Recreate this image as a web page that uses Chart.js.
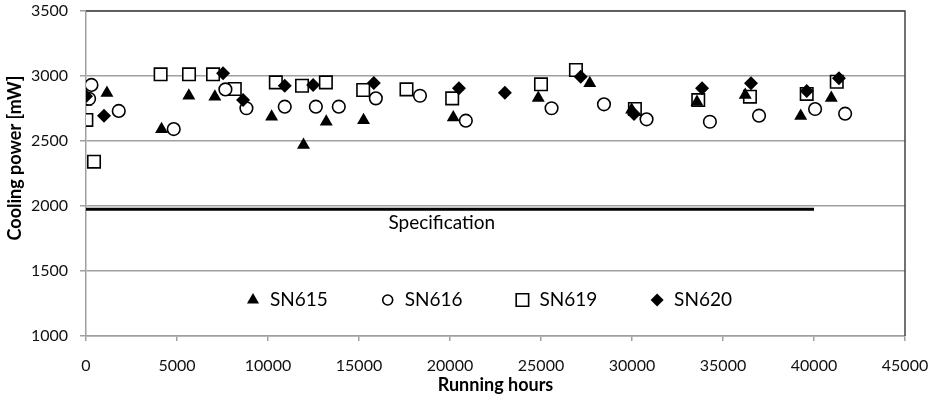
<!DOCTYPE html>
<html><head><meta charset="utf-8">
<script src="https://cdn.jsdelivr.net/npm/chart.js@4"></script>
<style>html,body{margin:0;padding:0;background:#fff;}</style>
</head><body>
<canvas id="c" width="937" height="399"></canvas>
<script>
// ---- data ----
const seriesNames = ['SN615', 'SN616', 'SN619', 'SN620'];

const sn615Hours = [0, 1150, 4150, 5650, 7080, 10200, 11950, 13200, 15250, 20180, 24850, 27680, 29980, 33570, 36220, 39270, 40950];
const sn615Power = [2800, 2870, 2590, 2848, 2840, 2687, 2470, 2648, 2659, 2680, 2830, 2944, 2740, 2800, 2854, 2692, 2830];

const sn616Hours = [170, 300, 1800, 4820, 7660, 8815, 10920, 12630, 13890, 15925, 18350, 20870, 25580, 28460, 30800, 34280, 36980, 40060, 41710];
const sn616Power = [2825, 2931, 2731, 2592, 2897, 2752, 2764, 2764, 2764, 2828, 2848, 2656, 2752, 2782, 2667, 2648, 2695, 2746, 2710];

const sn619Hours = [20, 440, 4100, 5660, 6980, 8175, 10430, 11870, 13180, 15230, 17610, 20120, 25000, 26920, 30160, 33640, 36480, 39600, 41250];
const sn619Power = [2662, 2341, 3013, 3013, 3013, 2900, 2951, 2925, 2951, 2892, 2897, 2828, 2936, 3046, 2746, 2815, 2841, 2862, 2956];

const sn620Hours = [0, 990, 7530, 8630, 10920, 12480, 15815, 20490, 23015, 27180, 30110, 33850, 36540, 39600, 41370];
const sn620Power = [2845, 2695, 3021, 2815, 2925, 2931, 2946, 2905, 2872, 2995, 2708, 2905, 2945, 2885, 2982];

const specHours = [0, 40000];
const specPower = [1975, 1975];
const specLabel = 'Specification';
const specLabelHours = 19550;

const xTitle = 'Running hours';
const yTitle = 'Cooling power [mW]';
const xMin = 0, xMax = 45000, xStep = 5000;
const yMin = 1000, yMax = 3500, yStep = 500;

// ---- helpers ----
const pts = (xs, ys) => xs.map((x, i) => ({ x: x, y: ys[i] }));
const FONT = 'Lato, "Open Sans", sans-serif';
const GRID = '#a0a0a0';

const styles = [
  { pointStyle: 'triangle', radius: 7.5, bg: '#000', border: '#000', bw: 0, order: 2 },
  { pointStyle: 'circle', radius: 6.3, bg: '#fff', border: '#000', bw: 1.6, order: 1 },
  { pointStyle: 'rect', radius: 8.8, bg: '#fff', border: '#000', bw: 1.6, order: 3 },
  { pointStyle: 'rectRot', radius: 7, bg: '#000', border: '#000', bw: 0, order: 0 }
];
const seriesData = [
  pts(sn615Hours, sn615Power),
  pts(sn616Hours, sn616Power),
  pts(sn619Hours, sn619Power),
  pts(sn620Hours, sn620Power)
];

const datasets = seriesNames.map((name, i) => ({
  type: 'scatter',
  label: name,
  data: seriesData[i],
  pointStyle: styles[i].pointStyle,
  pointRadius: styles[i].radius,
  pointBackgroundColor: styles[i].bg,
  pointBorderColor: styles[i].border,
  pointBorderWidth: styles[i].bw,
  showLine: false,
  order: styles[i].order
}));
datasets.push({
  type: 'line',
  label: specLabel,
  data: pts(specHours, specPower),
  borderColor: '#000',
  borderWidth: 3,
  pointRadius: 0,
  fill: false,
  order: 5
});

function zeroPad(s) { s.paddingTop = 0; s.paddingBottom = 0; s.paddingLeft = 0; s.paddingRight = 0; }

const overlay = {
  id: 'overlay',
  beforeDatasetsDraw(chart) {
    const { ctx, chartArea: a } = chart;
    ctx.save();
    ctx.strokeStyle = '#444';
    ctx.lineWidth = 1.5;
    ctx.beginPath();
    ctx.moveTo(a.left, a.top);
    ctx.lineTo(a.right, a.top);
    ctx.lineTo(a.right, a.bottom);
    ctx.stroke();
    ctx.restore();
  },
  afterDatasetsDraw(chart) {
    const { ctx, chartArea: a, scales } = chart;
    const xs = scales.x, ys = scales.y;
    ctx.save();
    ctx.fillStyle = '#000';
    // specification label
    ctx.font = '19px ' + FONT;
    ctx.textAlign = 'center';
    ctx.textBaseline = 'middle';
    ctx.fillText(specLabel, xs.getPixelForValue(specLabelHours), ys.getPixelForValue(specPower[0]) + 14);
    // legend
    const legendY = 300;
    const legendX0 = 253, legendStep = 134.7;
    const legendR = [7, 5, 8.8, 6.5];
    seriesNames.forEach((name, i) => {
      const mx = legendX0 + i * legendStep;
      ctx.fillStyle = styles[i].bg;
      ctx.strokeStyle = styles[i].border;
      ctx.lineWidth = styles[i].bw;
      Chart.helpers.drawPoint(ctx, { pointStyle: styles[i].pointStyle, radius: legendR[i], rotation: 0, borderWidth: styles[i].bw }, mx, legendY);
      ctx.fillStyle = '#000';
      ctx.textAlign = 'left';
      ctx.textBaseline = 'middle';
      ctx.font = '19px ' + FONT;
      ctx.fillText(name, mx + 17, legendY);
    });
    // axis titles
    ctx.font = 'bold 18px ' + FONT;
    ctx.textAlign = 'center';
    ctx.textBaseline = 'middle';
    ctx.fillText(xTitle, (a.left + a.right) / 2, 385);
    ctx.save();
    ctx.translate(15, 158);
    ctx.rotate(-Math.PI / 2);
    ctx.fillText(yTitle, 0, 0);
    ctx.restore();
    ctx.restore();
  }
};

new Chart(document.getElementById('c'), {
  data: { datasets: datasets },
  options: {
    responsive: false,
    animation: false,
    layout: { padding: { top: 11, right: 32, left: 0, bottom: 0 } },
    plugins: { legend: { display: false }, tooltip: { enabled: false } },
    scales: {
      x: {
        type: 'linear', min: xMin, max: xMax,
        ticks: { stepSize: xStep, autoSkip: false, maxRotation: 0, color: '#111', font: { family: FONT, size: 16 }, padding: 15, callback: v => String(v) },
        grid: { drawOnChartArea: false, drawTicks: true, tickLength: 5, color: GRID, lineWidth: 1.5 },
        border: { display: true, color: GRID, width: 1.5 },
        afterFit(s) { s.height = 63; zeroPad(s); }
      },
      y: {
        type: 'linear', min: yMin, max: yMax,
        ticks: { stepSize: yStep, color: '#111', font: { family: FONT, size: 16 }, padding: 12, callback: v => String(v) },
        grid: { color: GRID, lineWidth: 1.5, tickLength: 6 },
        border: { display: true, color: GRID, width: 1.5 },
        afterFit(s) { s.width = 86; zeroPad(s); }
      }
    }
  },
  plugins: [overlay]
});
</script>
</body></html>
